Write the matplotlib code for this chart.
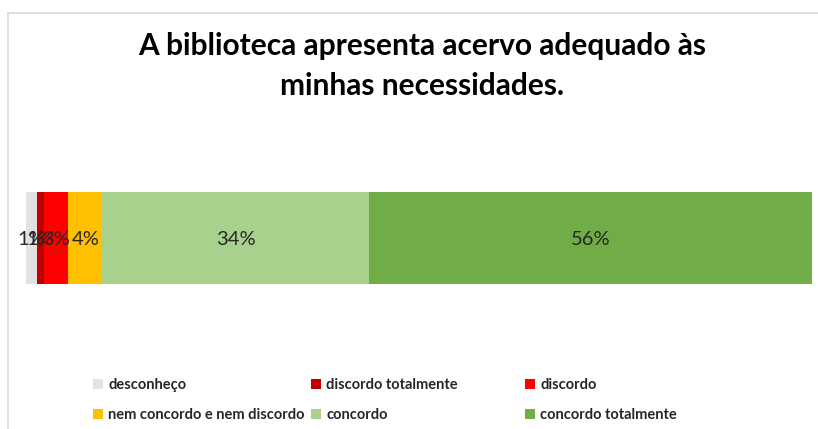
import matplotlib
matplotlib.use("Agg")
import matplotlib.pyplot as plt
from matplotlib.patches import Patch
from matplotlib.lines import Line2D

plt.rcParams['font.family'] = ['Lato', 'DejaVu Sans']

title_lines = ["A biblioteca apresenta acervo adequado às", "minhas necessidades."]
categories = ["desconheço", "discordo totalmente", "discordo",
              "nem concordo e nem discordo", "concordo", "concordo totalmente"]
values = [1.4, 0.9, 3.1, 4.3, 33.9, 56.4]
labels = ["1%", "1%", "3%", "4%", "34%", "56%"]
colors = ["#e2e2e2", "#c00000", "#ff0000", "#ffc000", "#a9d18e", "#70ad47"]

W, H = 818, 429
fig = plt.figure(figsize=(W / 100, H / 100), dpi=100)
fig.patch.set_facecolor("white")

# chart border (left and top)
fig.add_artist(Line2D([8 / W, 8 / W], [0, 1 - 13 / H], transform=fig.transFigure,
                      color="#d9d9d9", lw=1.2))
fig.add_artist(Line2D([8 / W, 1], [1 - 13 / H, 1 - 13 / H], transform=fig.transFigure,
                      color="#d9d9d9", lw=1.2))

ax = fig.add_axes([26 / W, 1 - 284 / H, (812 - 26) / W, (284 - 192) / H])
left = 0
handles = []
for cat, v, lab, c in zip(categories, values, labels, colors):
    ax.barh([0], [v], left=left, height=1.0, color=c, edgecolor="none")
    ax.text(left + v / 2, -0.02, lab, ha="center", va="center", fontsize=14.5,
            color="#262626")
    handles.append(Patch(facecolor=c, edgecolor="none", label=cat))
    left += v
ax.set_xlim(0, sum(values))
ax.set_ylim(-0.5, 0.5)
ax.axis("off")

fig.text(422 / W, 1 - 46 / H, title_lines[0],
         ha="center", va="center", fontsize=21.5, fontweight="bold", color="black")
fig.text(422 / W, 1 - 86 / H, title_lines[1],
         ha="center", va="center", fontsize=21.5, fontweight="bold", color="black")

# legend: 2 rows x 3 equal-width columns
col_x = [93, 311, 525]
for j in range(3):
    hs = [handles[j], handles[j + 3]]
    leg = fig.legend(handles=hs, loc="upper left",
                     bbox_to_anchor=(col_x[j] / W, 1 - 378 / H),
                     ncol=1, frameon=False, fontsize=10.5,
                     handlelength=0.7, handleheight=0.7, handletextpad=0.35,
                     labelspacing=1.12, borderaxespad=0, borderpad=0)
    for t in leg.get_texts():
        t.set_fontweight("bold")
        t.set_color("#262626")

fig.savefig("out.png", dpi=100, facecolor="white")
